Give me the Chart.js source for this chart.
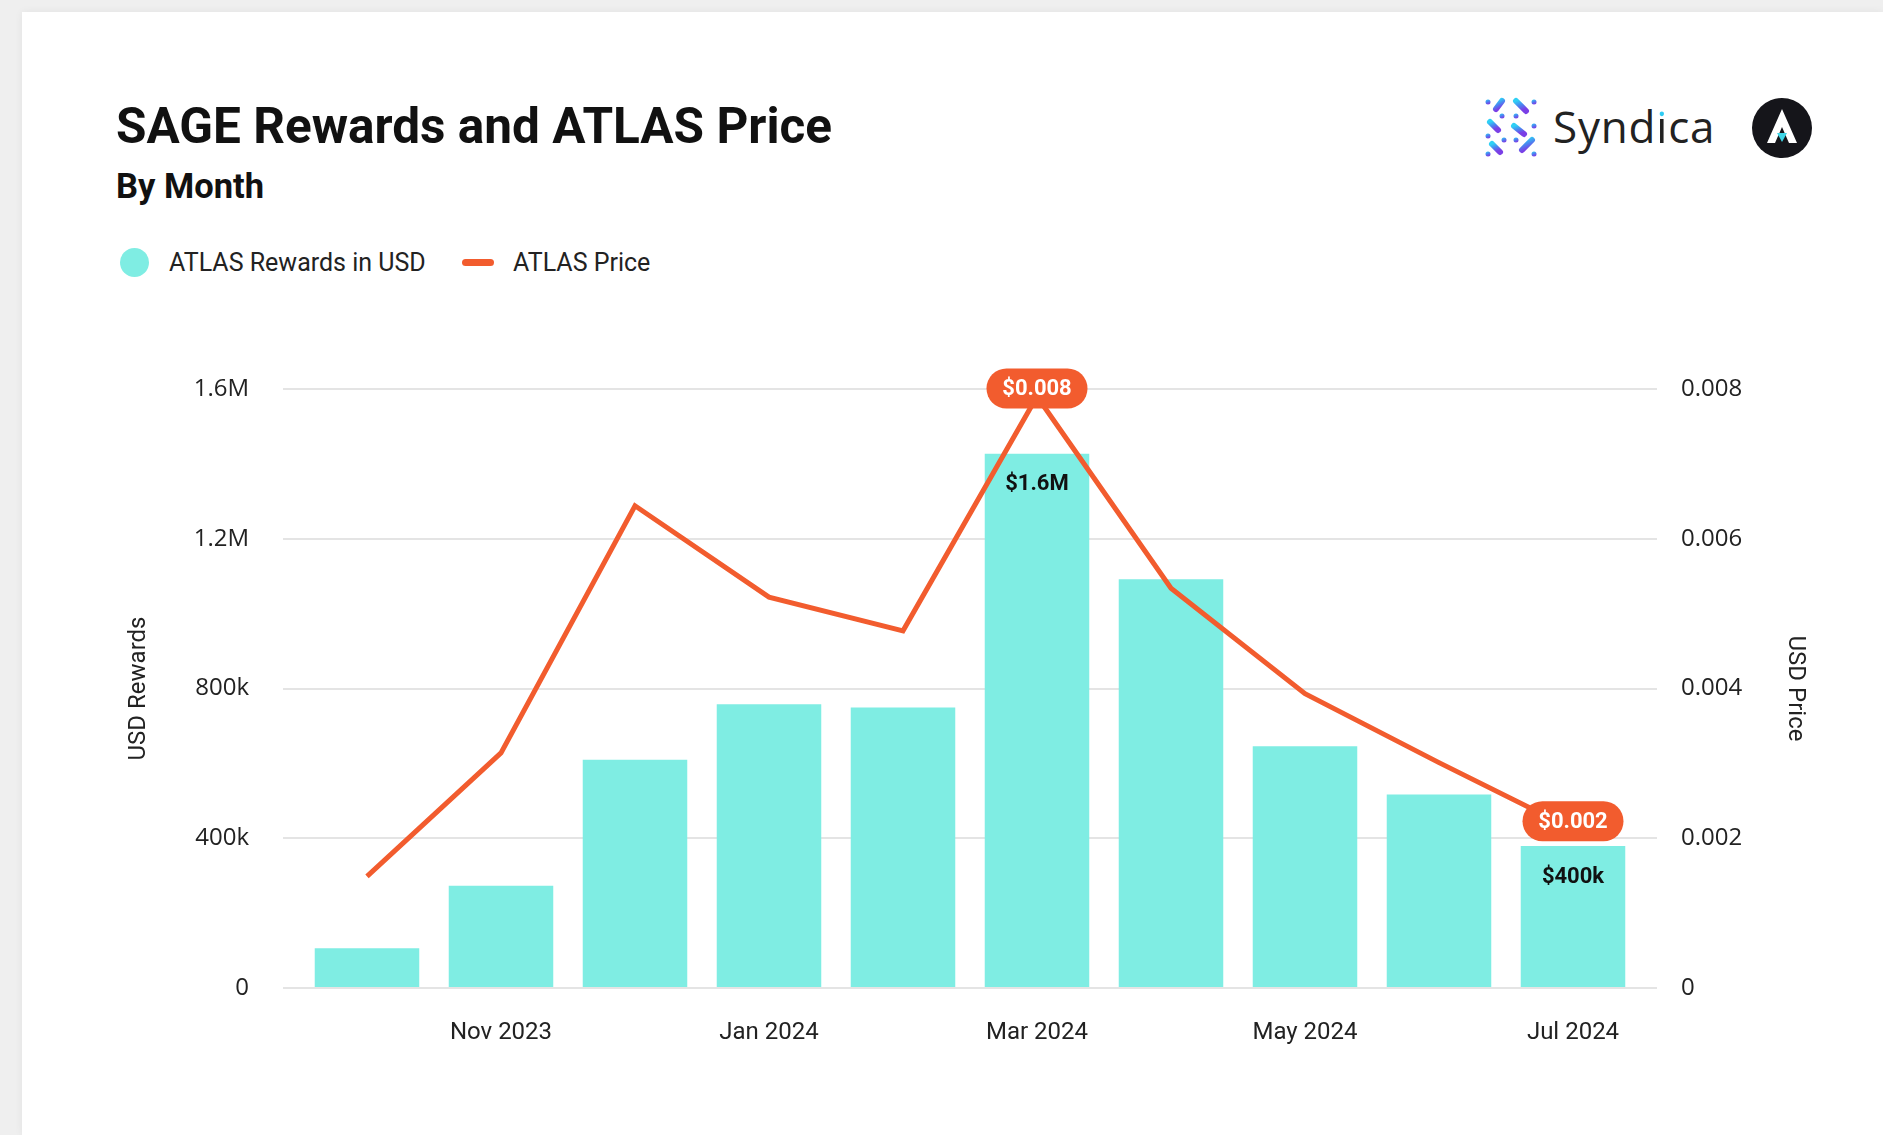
<!DOCTYPE html>
<html>
<head>
<meta charset="utf-8">
<script src="https://cdn.jsdelivr.net/npm/chart.js@4"></script>
<style>
  html, body { margin:0; padding:0; }
  body { width:1883px; height:1135px; background:#efefef; position:relative; overflow:hidden; font-family: Roboto, sans-serif; }
  #card { position:absolute; left:22px; top:12px; right:0; bottom:0; background:#fff; box-shadow:0 0 8px rgba(0,0,0,0.06); }
  .t { position:absolute; white-space:nowrap; line-height:1; color:#111; }
  #title { left:116px; top:102px; font-size:49.5px; font-weight:700; }
  #subtitle { left:116px; top:169px; font-size:34.5px; font-weight:700; }
  .leg { position:absolute; top:250px; font-size:25px; line-height:1; color:#222; white-space:nowrap; }
  #legDot { position:absolute; left:120px; top:248px; width:29px; height:29px; border-radius:50%; background:#7FEDE3; }
  #legLine { position:absolute; left:462px; top:259px; width:32px; height:7px; border-radius:4px; background:#F25C2E; }
  #syn { position:absolute; left:1553px; top:104px; font-family:"Open Sans", sans-serif; font-size:44px; line-height:1; color:#222; letter-spacing:0.8px; }
  #syn .i { background:linear-gradient(to bottom, #2FCBF3 0%, #2FCBF3 36%, #222 36%, #222 100%); -webkit-background-clip:text; background-clip:text; color:transparent; }
  #c { position:absolute; left:0; top:0; }
</style>
</head>
<body>
<div id="card"></div>
<div class="t" id="title">SAGE Rewards and ATLAS Price</div>
<div class="t" id="subtitle">By Month</div>
<div id="legDot"></div>
<div class="leg" style="left:169px;">ATLAS Rewards in USD</div>
<div id="legLine"></div>
<div class="leg" style="left:513px;">ATLAS Price</div>

<svg style="position:absolute;left:1484px;top:96px" width="56" height="64" viewBox="0 0 56 64">
  <defs>
    <linearGradient id="sg" x1="0" y1="0" x2="0.4" y2="1">
      <stop offset="0" stop-color="#2FD0F5"/>
      <stop offset="0.5" stop-color="#4A86F0"/>
      <stop offset="1" stop-color="#7A3FE6"/>
    </linearGradient>
  </defs>
  <g fill="url(#sg)" stroke="url(#sg)" stroke-width="6" stroke-linecap="round">
    <circle cx="4" cy="6" r="2.5" stroke="none"/>
    <line x1="18" y1="5" x2="12" y2="13"/>
    <line x1="32" y1="5" x2="42" y2="15"/>
    <circle cx="50" cy="6" r="2.5" stroke="none"/>
    <circle cx="18" cy="20" r="2.5" stroke="none"/>
    <circle cx="32" cy="20" r="2.5" stroke="none"/>
    <line x1="6" y1="26" x2="14" y2="34"/>
    <line x1="30" y1="30" x2="40" y2="38"/>
    <circle cx="4" cy="40" r="2.5" stroke="none"/>
    <circle cx="50" cy="30" r="2.5" stroke="none"/>
    <line x1="8" y1="48" x2="16" y2="56"/>
    <line x1="48" y1="44" x2="38" y2="54"/>
    <circle cx="20" cy="44" r="2.5" stroke="none"/>
    <circle cx="32" cy="44" r="2.5" stroke="none"/>
    <circle cx="4" cy="58" r="2.5" stroke="none"/>
    <circle cx="50" cy="58" r="2.5" stroke="none"/>
  </g>
</svg>
<div id="syn">Synd<span class="i">i</span>ca</div>
<svg style="position:absolute;left:1751px;top:97px" width="62" height="62" viewBox="0 0 62 62">
  <circle cx="31" cy="31" r="30" fill="#15151a"/>
  <path d="M31 12 L46 46 L38 46 L31 30 L24 46 L16 46 Z" fill="#fff"/>
  <path d="M26 36 L36 36 L31 45 Z" fill="#3FD6E8"/>
</svg>

<canvas id="c" width="1883" height="1135"></canvas>

<script>
const months = ['Oct 2023','Nov 2023','Dec 2023','Jan 2024','Feb 2024','Mar 2024','Apr 2024','May 2024','Jun 2024','Jul 2024'];
const rewardsUSD = [106000, 273000, 610000, 758000, 749000, 1427000, 1092000, 646000, 517000, 379000];
const atlasPrice = [0.00149, 0.00314, 0.00644, 0.00522, 0.00477, 0.0079, 0.00534, 0.00393, 0.00301, 0.00212];
const rewardLabels = [null, null, null, null, null, '$1.6M', null, null, null, '$400k'];
const priceLabels = [null, null, null, null, null, '$0.008', null, null, null, '$0.002'];
const rewardTicks = {0:'0', 400000:'400k', 800000:'800k', 1200000:'1.2M', 1600000:'1.6M'};
const priceTicks = {0:'0', 0.002:'0.002', 0.004:'0.004', 0.006:'0.006', 0.008:'0.008'};
const shownMonthIdx = [1, 3, 5, 7, 9];

const ORANGE = '#F25C2E';
const TEAL = '#7FEDE3';
const GRID = '#e4e4e4';

const valueLabels = {
  id: 'valueLabels',
  afterDatasetsDraw(chart) {
    const ctx = chart.ctx;
    const barMeta = chart.getDatasetMeta(0);
    const lineMeta = chart.getDatasetMeta(1);
    ctx.save();
    ctx.textAlign = 'center';
    ctx.textBaseline = 'middle';
    ctx.font = 'bold 22px Roboto';
    ctx.fillStyle = '#111';
    rewardLabels.forEach((t, i) => {
      if (!t) return;
      const el = barMeta.data[i];
      ctx.fillText(t, el.x, el.y + 31);
    });
    priceLabels.forEach((t, i) => {
      if (!t) return;
      const el = lineMeta.data[i];
      const w = 101, h = 40, cx = el.x, cy = el.y - 8;
      ctx.fillStyle = ORANGE;
      ctx.beginPath();
      ctx.roundRect(cx - w/2, cy - h/2, w, h, h/2);
      ctx.fill();
      ctx.fillStyle = '#fff';
      ctx.font = 'bold 22px Roboto';
      ctx.fillText(t, cx, cy + 1);
    });
    ctx.restore();
  }
};

new Chart(document.getElementById('c'), {
  data: {
    labels: months,
    datasets: [
      { type: 'bar', label: 'ATLAS Rewards in USD', data: rewardsUSD, backgroundColor: TEAL, yAxisID: 'y', order: 2,
        categoryPercentage: 1, barPercentage: 0.78 },
      { type: 'line', label: 'ATLAS Price', data: atlasPrice, borderColor: ORANGE, borderWidth: 5, pointRadius: 0,
        tension: 0, yAxisID: 'y1', order: 1, borderJoinStyle: 'miter' }
    ]
  },
  options: {
    responsive: false,
    animation: false,
    devicePixelRatio: 1,
    layout: { padding: { top: 389, left: 0, right: 0, bottom: 0 } },
    plugins: { legend: { display: false }, tooltip: { enabled: false } },
    scales: {
      x: {
        grid: { display: false, drawTicks: false },
        border: { display: false },
        ticks: { autoSkip: false, maxRotation: 0, padding: 31, color: '#222', font: { family: 'Roboto', size: 24 },
          callback: (v, i) => shownMonthIdx.includes(i) ? months[i] : '' },
        afterFit: s => { s.height = 147; }
      },
      y: {
        position: 'left', min: 0, max: 1600000,
        grid: { color: GRID, lineWidth: 2, drawTicks: true, tickLength: 17 },
        border: { display: false },
        ticks: { stepSize: 400000, padding: 34, color: '#222', font: { family: 'Open Sans', size: 24 },
          callback: v => rewardTicks[v] },
        title: { display: true, text: 'USD Rewards', color: '#222', font: { family: 'Roboto', size: 24 }, padding: { top: 124.6, bottom: 0 } },
        afterFit: s => { s.width = 300; }
      },
      y1: {
        position: 'right', min: 0, max: 0.008,
        grid: { color: GRID, lineWidth: 2, drawOnChartArea: false, drawTicks: true, tickLength: 17 },
        border: { display: false },
        ticks: { stepSize: 0.002, padding: 24, color: '#222', font: { family: 'Open Sans', size: 24 },
          callback: v => priceTicks[+v.toFixed(3)] },
        title: { display: true, text: 'USD Price', color: '#222', font: { family: 'Roboto', size: 24 }, padding: { top: 73.6, bottom: 0 } },
        afterFit: s => { s.width = 243; }
      }
    }
  },
  plugins: [valueLabels]
});
</script>
</body>
</html>
